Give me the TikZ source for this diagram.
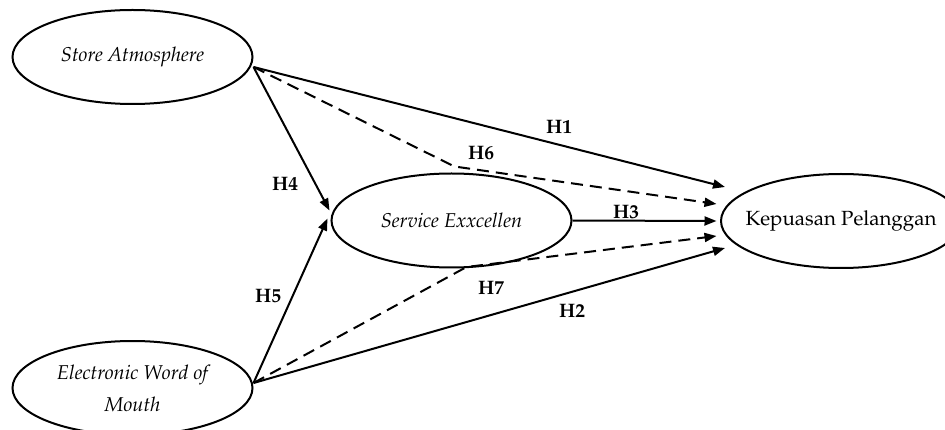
\documentclass[tikz,border=0pt]{standalone}
\IfFileExists{t1ppl.fd}
  {\usepackage[T1]{fontenc}\renewcommand\rmdefault{ppl}}
  {\usepackage{fontspec}\setmainfont{Liberation Serif}}
\usetikzlibrary{shapes.geometric,arrows.meta,calc}

\begin{document}
\begin{tikzpicture}[x=1pt,y=-1pt,
  construct/.style={ellipse, draw, line width=2pt, minimum width=240pt,
    minimum height=94pt, inner sep=0pt, align=center,
    font=\fontsize{20.5}{32}\selectfont},
  latent/.style={construct, font=\fontsize{20}{32}\selectfont\itshape},
  link/.style={line width=2pt, -{Triangle[length=12pt,width=9pt]}},
  mediated/.style={link, dash pattern=on 12pt off 7pt},
  hyp/.style={inner sep=0pt, font=\fontsize{19.5}{22}\selectfont\bfseries}]

\useasboundingbox (0,0) rectangle (945,430);

% constructs (the long outcome label is set in a zero-width box so the
% ellipse keeps the common size)
\node[latent]    (sa) at (132.5,57)    {Store Atmosphere};
\node[latent]    (se) at (451.5,220.5) {Service Exxcellen};
\node[construct] (kp) at (841,221)     {\makebox[0pt]{Kepuasan Pelanggan}};
\node[latent]    (ew) at (132.5,388)   {Electronic Word of\\Mouth};

% bends of the mediated paths, running just along the mediator
\coordinate (b6) at ($(se.north)+(3,-6)$);
\coordinate (b7) at ($(se.south)+(15,-1.5)$);

% direct effects
\draw[link] ($(sa.east)+(0,10)$) -- ($(kp.west)+(5,-34)$);
\draw[link] ($(ew.east)+(0,-5)$) -- ($(kp.west)+(5,27)$);
\draw[link] (se.east) -- ($(kp.west)+(-3.5,0)$);
\draw[link] ($(sa.east)+(0,10)$) -- ($(se.west)+(-1,-10)$);
\draw[link] ($(ew.east)+(0,-5)$) -- ($(se.west)+(-3,-2)$);

% indirect effects
\draw[mediated] ($(sa.east)+(0,10)$) -- (b6) -- ($(kp.west)+(-3.5,-17)$);
\draw[mediated] ($(ew.east)+(0,-5)$) -- (b7) -- ($(kp.west)+(-3.5,15)$);

% hypothesis labels
\node[hyp] (h1) at (559,127) {H1};
\node[hyp] (h2) at (572,311) {H2};
\node[hyp] (h3) at (626,212) {H3};
\node[hyp] (h4) at (285,184) {H4};
\node[hyp] (h5) at (268,296) {H5};
\node[hyp] (h6) at (481,153) {H6};
\node[hyp] (h7) at (491,288) {H7};
\end{tikzpicture}
\end{document}
